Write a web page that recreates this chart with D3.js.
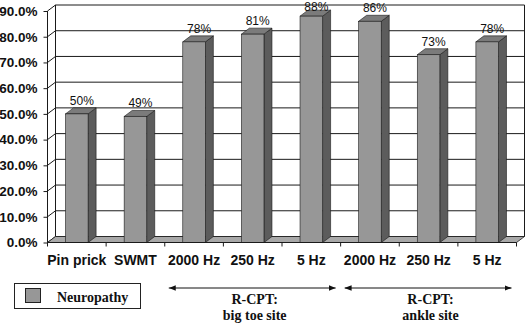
<!DOCTYPE html>
<html>
<head>
<meta charset="utf-8">
<script src="https://cdn.jsdelivr.net/npm/d3@7"></script>
<style>
  html, body { margin: 0; padding: 0; background: #fff; }
  svg { display: block; }
</style>
</head>
<body>
<div id="chart"></div>
<script>
const categories = ["Pin prick", "SWMT", "2000 Hz", "250 Hz", "5 Hz", "2000 Hz ", "250 Hz ", "5 Hz "];
const neuropathy = [50, 49, 78, 81, 88, 86, 73, 78];
const yTicks = [0, 10, 20, 30, 40, 50, 60, 70, 80, 90];
const groups = [
    { first: 2, last: 4, lines: ["R-CPT:", "big toe site"] },
    { first: 5, last: 7, lines: ["R-CPT:", "ankle site"] }
];
const seriesName = "Neuropathy";

const width = 526, height = 324;
const dx = 8, dy = -6;   // depth of the 3d look
const colors = { front: "#979797", top: "#7b7b7b", side: "#5c5c5c", floor: "#a8a8a8", line: "#1a1a1a" };

const svg = d3.select("#chart").append("svg")
    .attr("width", width)
    .attr("height", height)
    .style("font-family", "Arial, 'Liberation Sans', sans-serif");

const x = d3.scaleBand().domain(categories).range([47.5, 516.5]);
const y = d3.scaleLinear().domain([0, 90]).range([242.5, 11]);
const barW = x.bandwidth() * 0.385;
const [x0, x1] = x.range();

// back wall gridlines
svg.append("g").selectAll("line")
    .data(yTicks)
    .enter().append("line")
    .attr("x1", x0 + dx).attr("x2", x1 + dx)
    .attr("y1", d => y(d) + dy).attr("y2", d => y(d) + dy)
    .attr("stroke", colors.line).attr("stroke-width", 1);

// side wall diagonals
svg.append("g").selectAll("line")
    .data(yTicks)
    .enter().append("line")
    .attr("x1", x0).attr("x2", x0 + dx)
    .attr("y1", d => y(d)).attr("y2", d => y(d) + dy)
    .attr("stroke", colors.line).attr("stroke-width", 1);

// wall edges
svg.append("line")
    .attr("x1", x0 + dx).attr("x2", x0 + dx)
    .attr("y1", y(90) + dy).attr("y2", y(0) + dy)
    .attr("stroke", colors.line);
svg.append("line")
    .attr("x1", x1 + dx).attr("x2", x1 + dx)
    .attr("y1", y(90) + dy).attr("y2", y(0) + dy)
    .attr("stroke", colors.line);

// floor
svg.append("polygon")
    .attr("points", [[x0, y(0)], [x1, y(0)], [x1 + dx, y(0) + dy], [x0 + dx, y(0) + dy]].join(" "))
    .attr("fill", colors.floor)
    .attr("stroke", colors.line).attr("stroke-width", 0.8);

// bars
const bars = svg.append("g").selectAll("g")
    .data(neuropathy.map((v, i) => ({ cat: categories[i], v })))
    .enter().append("g");

bars.each(function(d) {
    const g = d3.select(this);
    const xl = x(d.cat) + (x.bandwidth() - barW) / 2;
    const xr = xl + barW;
    const yt = y(d.v), yb = y(0);
    g.append("polygon")
        .attr("points", [[xr, yt], [xr + dx, yt + dy], [xr + dx, yb + dy], [xr, yb]].join(" "))
        .attr("fill", colors.side).attr("stroke", colors.line).attr("stroke-width", 0.6);
    g.append("polygon")
        .attr("points", [[xl, yt], [xl + dx, yt + dy], [xr + dx, yt + dy], [xr, yt]].join(" "))
        .attr("fill", colors.top).attr("stroke", colors.line).attr("stroke-width", 0.6);
    g.append("rect")
        .attr("x", xl).attr("y", yt)
        .attr("width", barW).attr("height", yb - yt)
        .attr("fill", colors.front).attr("stroke", colors.line).attr("stroke-width", 0.6);
    g.append("text")
        .attr("x", xl + barW / 2 + 5)
        .attr("y", Math.max(yt + dy - 3, 11))
        .attr("text-anchor", "middle")
        .style("font-size", "12px")
        .attr("fill", "#111")
        .text(d.v + "%");
});

// y axis
const yAxis = d3.axisLeft(y)
    .tickValues(yTicks)
    .tickSize(4)
    .tickPadding(6)
    .tickFormat(d => d.toFixed(1) + "%");
svg.append("g")
    .attr("transform", `translate(${x0},0)`)
    .call(yAxis)
    .call(g => g.select(".domain").attr("stroke", colors.line).attr("d", `M0,${y(0)}V${y(90)}`))
    .call(g => g.selectAll("line").attr("stroke", colors.line))
    .call(g => g.selectAll("text").style("font-size", "13.5px").style("font-weight", "bold")
        .attr("fill", "#111").attr("font-family", "Arial, 'Liberation Sans', sans-serif"));

// x axis
svg.append("line")
    .attr("x1", x0).attr("x2", x1)
    .attr("y1", y(0)).attr("y2", y(0))
    .attr("stroke", colors.line);
svg.append("g").selectAll("line")
    .data(d3.range(categories.length + 1))
    .enter().append("line")
    .attr("x1", i => x0 + i * x.step()).attr("x2", i => x0 + i * x.step())
    .attr("y1", y(0)).attr("y2", y(0) + 4)
    .attr("stroke", colors.line);
svg.append("g")
    .attr("transform", `translate(0,${y(0)})`)
    .call(d3.axisBottom(x).tickSize(0).tickPadding(13))
    .call(g => g.select(".domain").remove())
    .call(g => g.selectAll("text").style("font-size", "14px").style("font-weight", "bold")
        .attr("fill", "#111").attr("font-family", "Arial, 'Liberation Sans', sans-serif")
        .text(d => d.trim()));

// group arrows
const defs = svg.append("defs");
["start", "end"].forEach(k => {
    defs.append("marker")
        .attr("id", "arrow-" + k)
        .attr("viewBox", "0 0 10 10")
        .attr("refX", k === "end" ? 10 : 0).attr("refY", 5)
        .attr("markerWidth", 7).attr("markerHeight", 7)
        .attr("markerUnits", "userSpaceOnUse")
        .attr("orient", "auto")
        .append("path")
        .attr("d", k === "end" ? "M0,1L10,5L0,9Z" : "M10,1L0,5L10,9Z")
        .attr("fill", "#111");
});
const arrowY = 288;
const gg = svg.append("g").selectAll("g").data(groups).enter().append("g");
gg.append("line")
    .attr("x1", d => x(categories[d.first]) + 4)
    .attr("x2", d => x(categories[d.last]) + x.bandwidth() - 5)
    .attr("y1", arrowY).attr("y2", arrowY)
    .attr("stroke", "#111").attr("stroke-width", 1)
    .attr("marker-start", "url(#arrow-start)")
    .attr("marker-end", "url(#arrow-end)");
gg.each(function(d) {
    const cx = (x(categories[d.first]) + x(categories[d.last]) + x.bandwidth()) / 2 + 2;
    d3.select(this).selectAll("text").data(d.lines).enter().append("text")
        .attr("x", cx)
        .attr("y", (t, i) => 304 + i * 16)
        .attr("text-anchor", "middle")
        .attr("font-family", "'Liberation Serif', 'Times New Roman', serif")
        .style("font-size", "14px").style("font-weight", "bold")
        .attr("fill", "#111")
        .text(t => t);
});

// legend
const legend = svg.append("g");
legend.append("rect")
    .attr("x", 14.5).attr("y", 283.5).attr("width", 126).attr("height", 25)
    .attr("fill", "#fff").attr("stroke", "#222");
legend.append("rect")
    .attr("x", 25.5).attr("y", 288.5).attr("width", 15).attr("height", 14)
    .attr("fill", colors.front).attr("stroke", "#222");
legend.append("text")
    .attr("x", 57).attr("y", 302)
    .attr("font-family", "'Liberation Serif', 'Times New Roman', serif")
    .style("font-size", "14px").style("font-weight", "bold")
    .attr("fill", "#111")
    .text(seriesName);
</script>
</body>
</html>
